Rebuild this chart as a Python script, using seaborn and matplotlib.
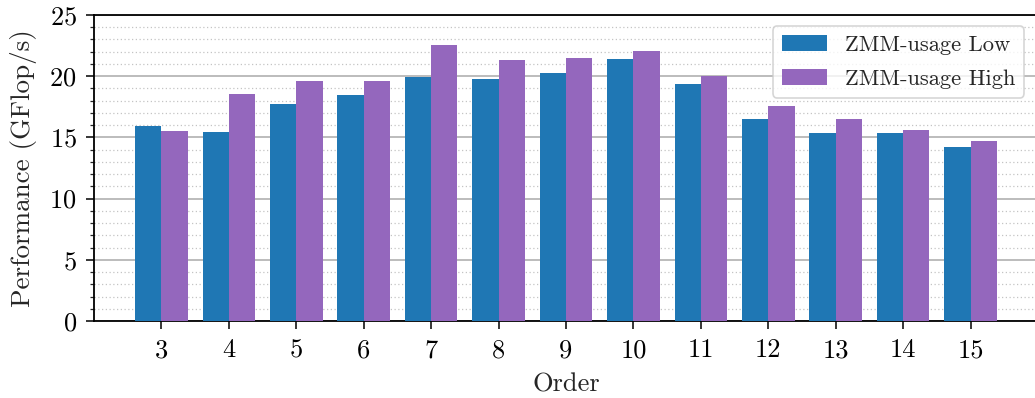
import matplotlib
matplotlib.use("Agg")
import matplotlib.pyplot as plt
from matplotlib.ticker import MultipleLocator
import seaborn as sns
import pandas as pd

orders = [3, 4, 5, 6, 7, 8, 9, 10, 11, 12, 13, 14, 15]
zmm_low = [15.93, 15.44, 17.73, 18.46, 19.93, 19.77, 20.26, 21.41, 19.36, 16.50, 15.36, 15.36, 14.22]
zmm_high = [15.52, 18.55, 19.61, 19.61, 22.55, 21.32, 21.49, 22.06, 20.02, 17.57, 16.50, 15.60, 14.71]
series_names = ["ZMM-usage Low", "ZMM-usage High"]
colors = ["#1f77b4", "#9467bd"]

df = pd.DataFrame({
    "Order": [str(o) for o in orders] * 2,
    "Performance": zmm_low + zmm_high,
    "Series": [series_names[0]] * len(orders) + [series_names[1]] * len(orders),
})

sns.set_style("ticks")
plt.rcParams["font.family"] = ["cmr10"]
plt.rcParams["mathtext.fontset"] = "cm"
plt.rcParams["axes.formatter.use_mathtext"] = True
plt.rcParams["axes.unicode_minus"] = False

fig = plt.figure(figsize=(10.35, 3.98), dpi=100)
ax = fig.add_axes([94 / 1035, 1 - 321 / 398, (1038 - 94) / 1035, (321 - 15) / 398])

sns.barplot(data=df, x="Order", y="Performance", hue="Series", hue_order=series_names,
            palette=colors, width=0.78, saturation=1, ax=ax, zorder=3,
            linewidth=0, edgecolor="none")

ax.set_ylim(0, 25)
ax.set_xlim(-1.0, 13.0)
ax.yaxis.set_major_locator(MultipleLocator(5))
ax.yaxis.set_minor_locator(MultipleLocator(1))
ax.set_axisbelow(True)
ax.yaxis.grid(True, which="major", color="#b0b0b0", linewidth=1.2, linestyle="-")
ax.yaxis.grid(True, which="minor", color="#c4c4c4", linewidth=0.9, linestyle=(0, (1, 2)))
ax.xaxis.grid(False)

for s in ["left", "bottom", "top"]:
    ax.spines[s].set_visible(True)
    ax.spines[s].set_linewidth(1.3)
    ax.spines[s].set_color("black")
ax.spines["right"].set_visible(False)

ax.tick_params(axis="both", which="major", direction="out", length=6, width=1.1,
               labelsize=19, colors="black", pad=6.5)
ax.tick_params(axis="y", which="minor", direction="out", length=3, width=0.9)
ax.tick_params(axis="x", which="minor", bottom=False)

ax.set_xlabel("Order", fontsize=19, labelpad=8)
ax.set_ylabel("Performance (GFlop/s)", fontsize=19.5, labelpad=9)

leg = ax.legend(loc="upper right", fontsize=16.2, frameon=True, fancybox=True,
                edgecolor="#cccccc", framealpha=0.8, handlelength=2.0, handleheight=0.72,
                labelspacing=0.62, handletextpad=0.8,
                borderaxespad=0.5, bbox_to_anchor=(1035 / 1038, 1.0))
leg.get_frame().set_linewidth(1.2)

fig.savefig("out.png", dpi=100)
